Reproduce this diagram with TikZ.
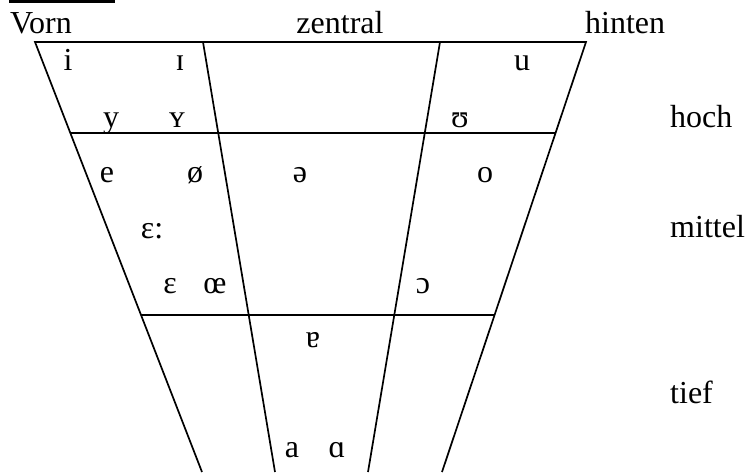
\documentclass[tikz,border=0pt]{standalone}
\usepackage{fontspec}
\setmainfont{Liberation Serif}
\usepackage{tikz}
\usetikzlibrary{calc}

\tikzset{
  vowel/.style={anchor=base, inner sep=0pt},
  label/.style={anchor=base west, inner sep=0pt},
  chart/.style={line width=1.7pt},
}

\begin{document}
\begin{tikzpicture}[x=1pt, y=-1pt, font=\fontsize{32}{38}\selectfont]
\useasboundingbox (0,0) rectangle (747,472);
% bar at the top edge
\fill (9,0) rectangle (115,3);
% corners of the trapezoid and the two inner dividers
\coordinate (tl) at (35,42);
\coordinate (bl) at (202,472);
\coordinate (tf) at (203,42);
\coordinate (bf) at (275,472);
\coordinate (tb) at (440,42);
\coordinate (bb) at (368,472);
\coordinate (tr) at (586,42);
\coordinate (br) at (442,472);
% height lines: hoch at y=133, tief at y=315
\coordinate (hl) at ($(tl)!0.2116!(bl)$);
\coordinate (hr) at ($(tr)!0.2116!(br)$);
\coordinate (ll) at ($(tl)!0.6349!(bl)$);
\coordinate (lr) at ($(tr)!0.6349!(br)$);
\draw[chart] (bl) -- (tl) -- (tr) -- (br);
\draw[chart] (tf) -- (bf);
\draw[chart] (tb) -- (bb);
\draw[chart] (hl) -- (hr);
\draw[chart] (ll) -- (lr);
% column heads
\node[label] (vorn) at (10,33) {Vorn};
\node[vowel] (zentral) at (340,33) {zentral};
\node[label] (hinten) at (585,33) {hinten};
% row labels
\node[label] (hoch) at (670,127) {hoch};
\node[label] (mittel) at (670,237) {mittel};
\node[label] (tief) at (670,403) {tief};
% vowels
\node[vowel] (i) at (68,70) {i};
\node[vowel] (I) at (180,70) {ɪ};
\node[vowel] (u) at (522,70) {u};
\node[vowel] (y) at (111,127) {y};
\node[vowel] (Y) at (177,127) {ʏ};
\node[vowel] (U) at (460,127) {ʊ};
\node[vowel] (e) at (107,182) {e};
\node[vowel] (oe) at (195,182) {ø};
\node[vowel] (schwa) at (300,182) {ə};
\node[vowel] (o) at (485,182) {o};
\node[vowel] (EE) at (152,238) {ɛ:};
\node[vowel] (E) at (170,293) {ɛ};
\node[vowel] (OE) at (215,293) {œ};
\node[vowel] (O) at (423,293) {ɔ};
\node[vowel] (turneda) at (313,347) {ɐ};
\node[vowel] (a) at (292,457) {a};
\node[vowel] (A) at (337,457) {ɑ};
\end{tikzpicture}
\end{document}
